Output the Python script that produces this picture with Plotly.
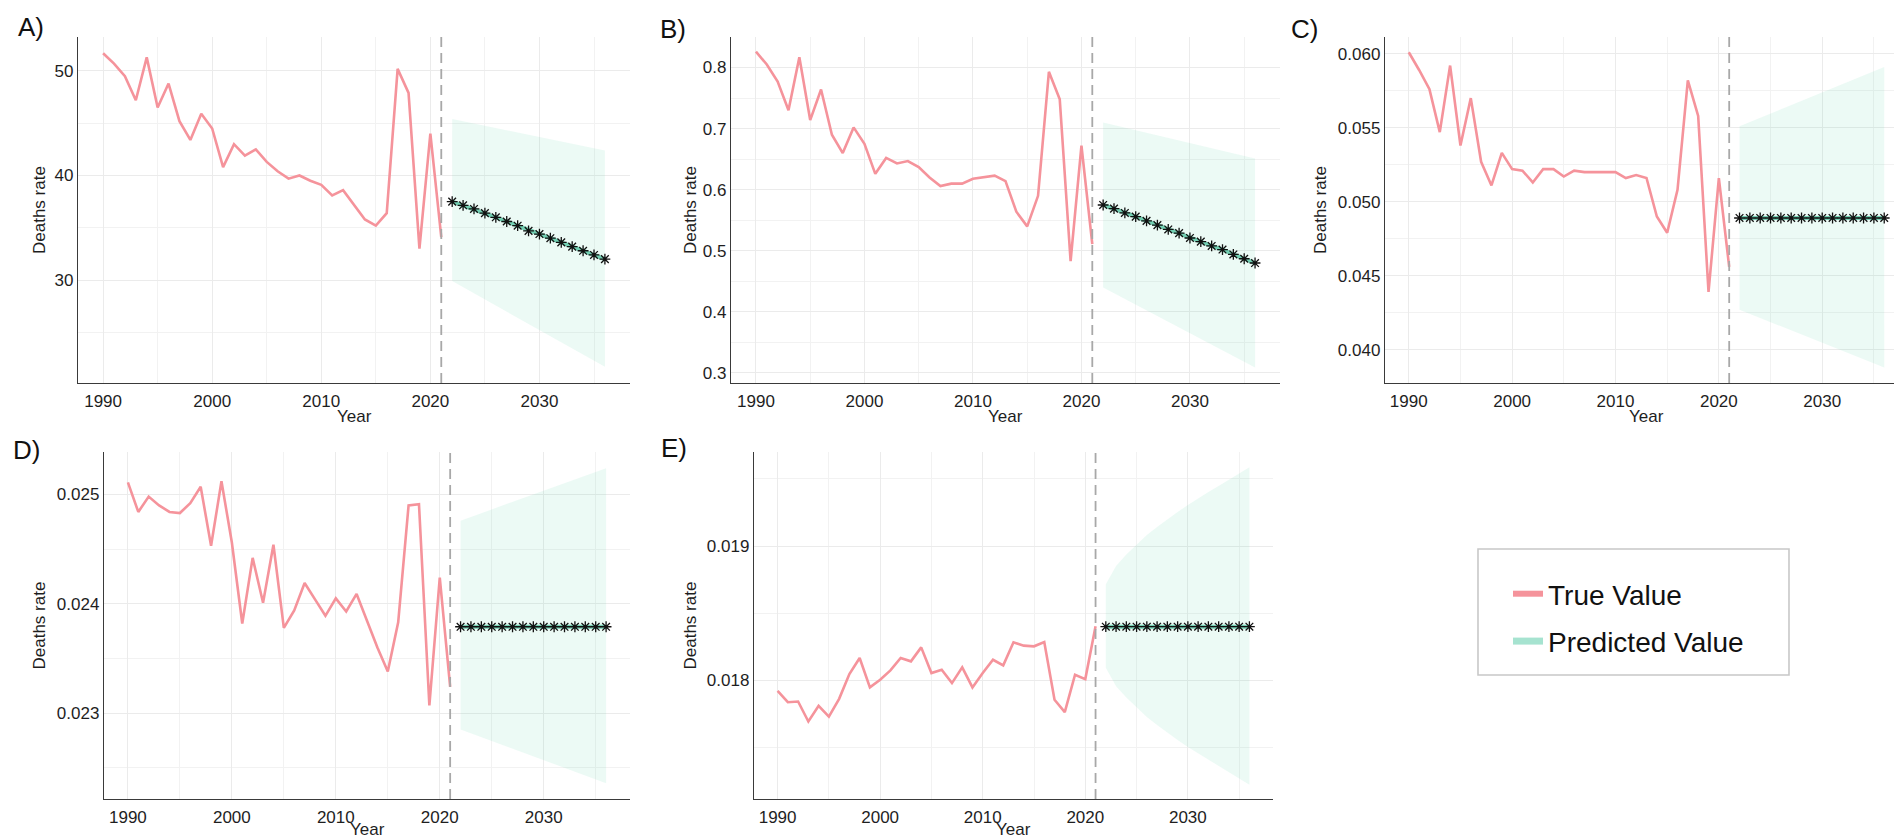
import plotly.graph_objects as go

W, H = 1902, 838

years_true = list(range(1990, 2022))
years_pred = list(range(2022, 2037))
band_years_2 = [2022, 2036]

# ---- Panel A ----
a_true = [51.7, 50.7, 49.5, 47.2, 51.3, 46.5, 48.8, 45.2, 43.4, 45.9, 44.5, 40.8, 43.0, 41.9, 42.5, 41.3,
          40.4, 39.7, 40.0, 39.5, 39.1, 38.1, 38.6, 37.2, 35.8, 35.2, 36.4, 50.2, 47.9, 33.0, 44.0, 34.1]
a_pred = [37.5, 37.15, 36.8, 36.4, 36.0, 35.6, 35.2, 34.7, 34.4, 34.0, 33.6, 33.2, 32.8, 32.4, 32.0]
a_upper = [45.4, 42.4]
a_lower = [29.9, 21.7]

# ---- Panel B ----
b_true = [0.826, 0.805, 0.777, 0.730, 0.817, 0.714, 0.764, 0.690, 0.660, 0.702, 0.675, 0.626, 0.652, 0.643,
          0.647, 0.637, 0.620, 0.606, 0.610, 0.610, 0.618, 0.620, 0.623, 0.614, 0.564, 0.540, 0.590, 0.793,
          0.748, 0.483, 0.672, 0.511]
b_pred = [0.575, 0.569, 0.562, 0.556, 0.549, 0.542, 0.535, 0.529, 0.521, 0.515, 0.508, 0.502, 0.494, 0.487, 0.480]
b_upper = [0.710, 0.651]
b_lower = [0.440, 0.309]

# ---- Panel C ----
c_true = [0.0601, 0.0589, 0.0576, 0.0547, 0.0592, 0.0538, 0.0570, 0.0527, 0.0511, 0.0533, 0.0522, 0.0521,
          0.0513, 0.0522, 0.0522, 0.0517, 0.0521, 0.0520, 0.0520, 0.0520, 0.0520, 0.0516, 0.0518, 0.0516,
          0.0490, 0.0479, 0.0508, 0.0582, 0.0558, 0.0439, 0.0516, 0.0456]
c_pred = [0.0489, 0.0489, 0.0489, 0.0489, 0.0489, 0.0489, 0.0489, 0.0489, 0.0489, 0.0489, 0.0489, 0.0489,
          0.0489, 0.0489, 0.0489]
c_upper = [0.0551, 0.0591]
c_lower = [0.0427, 0.0388]

# ---- Panel D ----
d_true = [0.02511, 0.02484, 0.02498, 0.02490, 0.02484, 0.02483, 0.02492, 0.02507, 0.02453, 0.02512, 0.02456,
          0.02382, 0.02442, 0.02401, 0.02454, 0.02378, 0.02394, 0.02419, 0.02404, 0.02389, 0.02405, 0.02393,
          0.02409, 0.02384, 0.02360, 0.02338, 0.02383, 0.02490, 0.02491, 0.02307, 0.02424, 0.02324]
d_pred = [0.02379, 0.02379, 0.02379, 0.02379, 0.02379, 0.02379, 0.02379, 0.02379, 0.02379, 0.02379, 0.02379,
          0.02379, 0.02379, 0.02379, 0.02379]
d_upper = [0.02476, 0.02524]
d_lower = [0.02285, 0.02236]

# ---- Panel E ----
e_true = [0.017923, 0.017838, 0.017843, 0.017694, 0.017811, 0.017731, 0.017863, 0.018047, 0.018167, 0.017948,
          0.018005, 0.018075, 0.018167, 0.018142, 0.018246, 0.018055, 0.018080, 0.017980, 0.018097, 0.017948,
          0.018055, 0.018154, 0.018112, 0.018284, 0.018259, 0.018254, 0.018286, 0.017856, 0.017764, 0.018042,
          0.018010, 0.018403]
e_pred = [0.01840, 0.01840, 0.01840, 0.01840, 0.01840, 0.01840, 0.01840, 0.01840, 0.01840, 0.01840, 0.01840,
          0.01840, 0.01840, 0.01840, 0.01840]
e_upper = [0.018716, 0.018853, 0.018938, 0.019012, 0.019082, 0.019142, 0.019199, 0.019254, 0.019306, 0.019356,
           0.019403, 0.019448, 0.019493, 0.019540, 0.019587]
e_lower = [0.018094, 0.017957, 0.017872, 0.017798, 0.017728, 0.017668, 0.017611, 0.017556, 0.017504, 0.017454,
           0.017407, 0.017362, 0.017317, 0.017270, 0.017223]

panel_labels = ["A)", "B)", "C)", "D)", "E)"]
legend_names = ["True Value", "Predicted Value"]
x_title = "Year"
y_title = "Deaths rate"

PINK = "#F5939B"
TEAL = "#72CFB2"
BAND = "rgba(110,215,180,0.13)"
GRID = "#EBEBEB"
GRID_MINOR = "#F2F2F2"
AXIS = "#3A3A3A"
TXT = "#1E1E1E"
FONT = "Liberation Sans, Arial, sans-serif"

def px_x(p):
    return p / W

def px_y(p):
    return 1 - p / H

# layout geometry in pixels: (left, right, top, bottom)
boxes = [
    (70, 622, 29, 375),
    (723, 1272, 29, 375),
    (1377, 1900, 29, 375),
    (96, 622, 444, 791),
    (746, 1265, 444, 791),
]
yranges = [
    [20.15, 53.25],
    [0.2836, 0.850],
    [0.03775, 0.06113],
    [0.022215, 0.025388],
    [0.017117, 0.019701],
]
ydticks = [10, 0.1, 0.005, 0.001, 0.001]
yminor = [5, 0.05, 0.0025, 0.0005, 0.0005]
yformats = ["d", ".1f", ".3f", ".3f", ".3f"]
xrange_all = [1987.7, 2038.3]
label_pos = [(8, 19), (650, 21), (1281, 21), (3, 442), (651, 440)]
ytitle_x = [31, 682, 1312, 31, 682]
xtitle_dy = [33, 33, 33, 30, 30]

panels = [
    (a_true, a_pred, band_years_2, a_upper, a_lower),
    (b_true, b_pred, band_years_2, b_upper, b_lower),
    (c_true, c_pred, band_years_2, c_upper, c_lower),
    (d_true, d_pred, band_years_2, d_upper, d_lower),
    (e_true, e_pred, years_pred, e_upper, e_lower),
]

fig = go.Figure()
layout = {}
shapes = []
annotations = []

for i, (tv, pv, by, up, lo) in enumerate(panels):
    n = i + 1
    xa = "x" if n == 1 else f"x{n}"
    ya = "y" if n == 1 else f"y{n}"
    # band
    fig.add_trace(go.Scatter(
        x=list(by) + list(by)[::-1], y=list(up) + list(lo)[::-1],
        xaxis=xa, yaxis=ya, mode="lines", fill="toself", fillcolor=BAND,
        line=dict(width=0, color="rgba(0,0,0,0)"), showlegend=False, hoverinfo="skip"))
    # true
    fig.add_trace(go.Scatter(
        x=years_true, y=tv, xaxis=xa, yaxis=ya, mode="lines",
        line=dict(color=PINK, width=2.6), showlegend=False))
    # predicted
    fig.add_trace(go.Scatter(
        x=years_pred, y=pv, xaxis=xa, yaxis=ya, mode="lines+markers",
        line=dict(color=TEAL, width=4),
        marker=dict(symbol="asterisk-open", size=9, color="#111111",
                    line=dict(color="#111111", width=1.3)),
        showlegend=False))

    l, r, t, b = boxes[i]
    xkey = "xaxis" if n == 1 else f"xaxis{n}"
    ykey = "yaxis" if n == 1 else f"yaxis{n}"
    layout[xkey] = dict(
        domain=[px_x(l), px_x(r)], anchor=ya, range=xrange_all,
        tickmode="linear", tick0=1990, dtick=10, showgrid=True, gridcolor=GRID, gridwidth=1,
        minor=dict(tickmode="linear", tick0=1985, dtick=5, showgrid=True, gridcolor=GRID_MINOR, gridwidth=1),
        showline=True, linecolor=AXIS, linewidth=1.4, zeroline=False, ticks="",
        tickfont=dict(family=FONT, size=17, color=TXT), ticklabelstandoff=2)
    layout[ykey] = dict(
        domain=[px_y(b), px_y(t)], anchor=xa, range=yranges[i],
        tickmode="linear", tick0=0, dtick=ydticks[i], tickformat=yformats[i],
        showgrid=True, gridcolor=GRID, gridwidth=1,
        minor=dict(tickmode="linear", tick0=0, dtick=yminor[i], showgrid=True, gridcolor=GRID_MINOR, gridwidth=1),
        showline=True, linecolor=AXIS, linewidth=1.4, zeroline=False, ticks="",
        tickfont=dict(family=FONT, size=17, color=TXT))
    # vertical dashed line at 2021
    shapes.append(dict(type="line", xref=xa, yref=f"{ya} domain", x0=2021, x1=2021, y0=0, y1=1,
                       line=dict(color="#A8A8A8", width=1.8, dash="10px,6px")))
    # panel label
    lx, ly = label_pos[i]
    annotations.append(dict(text=panel_labels[i], x=px_x(lx), y=px_y(ly), xref="paper", yref="paper",
                            xanchor="left", yanchor="middle", showarrow=False,
                            font=dict(family=FONT, size=26, color="#111111")))
    # axis titles
    annotations.append(dict(text=y_title, x=px_x(ytitle_x[i]), y=px_y((t + b) / 2), xref="paper", yref="paper",
                            xanchor="center", yanchor="middle", showarrow=False, textangle=-90,
                            font=dict(family=FONT, size=17, color=TXT)))
    annotations.append(dict(text=x_title, x=px_x((l + r) / 2), y=px_y(b + xtitle_dy[i]), xref="paper",
                            yref="paper", xanchor="center", yanchor="middle", showarrow=False,
                            font=dict(family=FONT, size=17, color=TXT)))

# legend entries
fig.add_trace(go.Scatter(x=[None], y=[None], mode="lines", name=legend_names[0],
                         line=dict(color=PINK, width=6), legendgroup="g1"))
fig.add_trace(go.Scatter(x=[None], y=[None], mode="lines", name=legend_names[1],
                         line=dict(color="#A6E3D0", width=7), legendgroup="g2"))

# legend frame
shapes.append(dict(type="rect", xref="paper", yref="paper",
                   x0=px_x(1470), x1=px_x(1781), y0=px_y(667), y1=px_y(541),
                   line=dict(color="#C8C8C8", width=1.6), fillcolor="rgba(0,0,0,0)"))

fig.update_layout(
    width=W, height=H, margin=dict(l=0, r=0, t=0, b=0),
    paper_bgcolor="white", plot_bgcolor="white",
    showlegend=True,
    legend=dict(x=px_x(1500), y=px_y(561), xanchor="left", yanchor="top",
                font=dict(family=FONT, size=28, color="#111111"),
                bgcolor="rgba(0,0,0,0)", borderwidth=0,
                traceorder="grouped", tracegroupgap=8, itemwidth=30),
    shapes=shapes, annotations=annotations,
    **layout,
)

fig.write_html("out.html")
